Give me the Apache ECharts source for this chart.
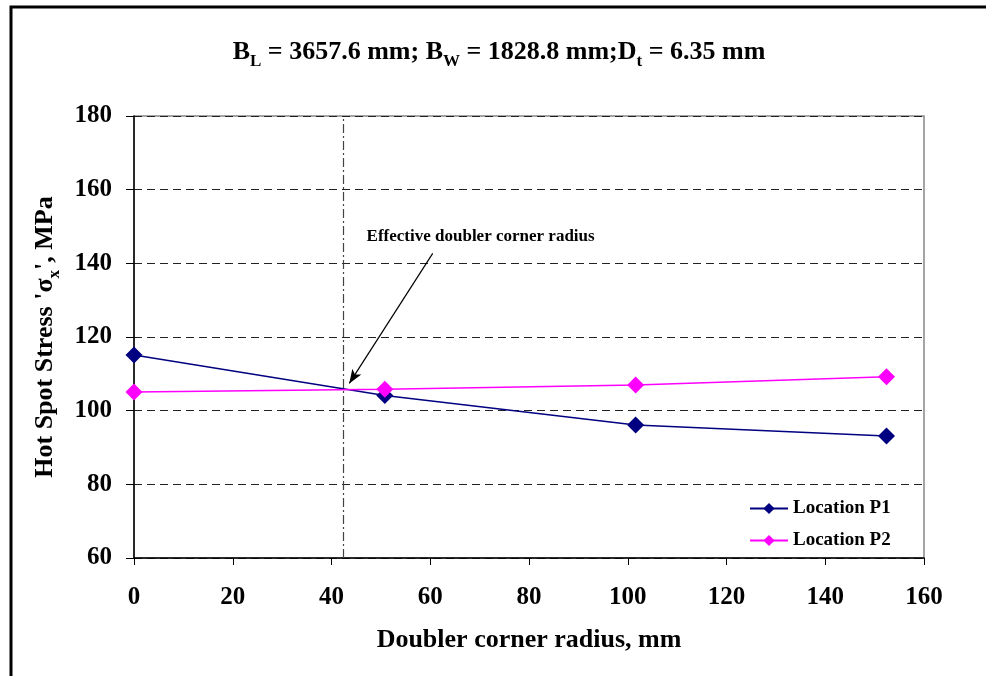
<!DOCTYPE html>
<html>
<head>
<meta charset="utf-8">
<script src="https://cdn.jsdelivr.net/npm/echarts@6/dist/echarts.min.js"></script>
<style>
  html,body{margin:0;padding:0;background:#fff;}
  #chart{width:986px;height:676px;}
</style>
</head>
<body>
<div id="chart"></div>
<script>
// doubler corner radius, mm
var radius = [0, 50.8, 101.6, 152.4];
// hot spot stress, MPa
var stressP1 = [115.1, 104.1, 96.1, 93.1];
var stressP2 = [105.1, 105.8, 107.0, 109.2];
var seriesNames = ["Location P1", "Location P2"];
var effRadius = 42.3;
// annotation arrow: start / tip in data coords
var arrowFrom = [60.5, 142.7];
var arrowTo = [43.6, 107.4];
var noteAt = [70.2, 147.3];

var serif = "'Liberation Serif','Times New Roman',serif";

function pairs(xs, ys){
    var out = [];
    for(var i=0;i<xs.length;i++){ out.push([xs[i], ys[i]]); }
    return out;
}

var chart = echarts.init(document.getElementById("chart"));
var option = {
    animation: false,
    backgroundColor: "#fff",
    title: {
        text: "{b|B}{s|L}{b| = 3657.6 mm; B}{s|W}{b| = 1828.8 mm;D}{s|t}{b| = 6.35 mm}",
        left: 494,
        textAlign: "center",
        top: 30,
        textStyle: {
            rich: {
                b: {fontFamily: serif, fontWeight: "bold", fontSize: 26, color: "#000", lineHeight: 30, verticalAlign: "bottom"},
                s: {fontFamily: serif, fontWeight: "bold", fontSize: 17, color: "#000", lineHeight: 30, verticalAlign: "bottom", padding: [0,0,-5,0]}
            }
        }
    },
    graphic: [{
        type: "polyline",
        shape: {points: [[11,676],[11,7],[986,7]]},
        style: {stroke: "#000", lineWidth: 3, fill: null},
        silent: true
    }],
    legend: {
        orient: "vertical",
        left: 744,
        top: 494,
        itemGap: 13,
        itemWidth: 38,
        itemHeight: 14,
        textStyle: {fontFamily: serif, fontWeight: "bold", fontSize: 19, color: "#000"},
        data: seriesNames
    },
    grid: {left: 134, right: 62, top: 116, bottom: 118, show: true, borderColor: "#888", borderWidth: 1.5},
    xAxis: {
        type: "value",
        min: 0, max: 160, interval: 20,
        name: "Doubler corner radius, mm",
        nameLocation: "middle",
        nameGap: 69,
        nameTextStyle: {fontFamily: serif, fontWeight: "bold", fontSize: 26, color: "#000"},
        axisLine: {onZero: false, lineStyle: {color: "#000", width: 1.5}},
        axisTick: {show: true, length: 7, lineStyle: {color: "#000"}},
        axisLabel: {fontFamily: serif, fontWeight: "bold", fontSize: 25, color: "#000", margin: 27},
        splitLine: {show: false}
    },
    yAxis: {
        type: "value",
        min: 60, max: 180, interval: 20,
        name: "{b|Hot Spot Stress 'σ}{s|x}{b|', MPa}",
        nameLocation: "middle",
        nameGap: 60,
        nameTextStyle: {
            rich: {
                b: {fontFamily: serif, fontWeight: "bold", fontSize: 26, color: "#000", lineHeight: 30, verticalAlign: "bottom"},
                s: {fontFamily: serif, fontWeight: "bold", fontSize: 17, color: "#000", lineHeight: 30, verticalAlign: "bottom", padding: [0,0,-5,0]}
            }
        },
        axisLine: {show: true, lineStyle: {color: "#000", width: 1.5}},
        axisTick: {show: true, length: 8, lineStyle: {color: "#000"}},
        axisLabel: {fontFamily: serif, fontWeight: "bold", fontSize: 25, color: "#000", margin: 22},
        splitLine: {show: true, lineStyle: {color: "#222", type: [8, 5], width: 1}}
    },
    series: [{
        name: seriesNames[0],
        type: "line",
        data: pairs(radius, stressP1),
        symbol: "diamond",
        symbolSize: 17,
        itemStyle: {color: "#000080"},
        lineStyle: {color: "#000080", width: 1.5},
        markLine: {
            silent: true,
            symbol: ["none", "none"],
            label: {show: false},
            lineStyle: {color: "#444", type: [9, 3, 2, 3], width: 1.2},
            data: [{xAxis: effRadius}]
        }
    },{
        name: seriesNames[1],
        type: "line",
        data: pairs(radius, stressP2),
        symbol: "diamond",
        symbolSize: 17,
        itemStyle: {color: "#FF00FF"},
        lineStyle: {color: "#FF00FF", width: 1.5},
        markLine: {
            silent: true,
            symbol: ["none", "arrow"],
            symbolSize: [8, 14],
            label: {show: false},
            lineStyle: {color: "#000", type: "solid", width: 1.2},
            data: [[{coord: arrowFrom}, {coord: arrowTo}]]
        },
        markPoint: {
            silent: true,
            symbol: "circle",
            symbolSize: 0,
            label: {
                show: true,
                position: "inside",
                formatter: "Effective doubler corner radius",
                fontFamily: serif, fontWeight: "bold", fontSize: 17, color: "#000"
            },
            data: [{coord: noteAt}]
        }
    }]
};
chart.setOption(option);
</script>
</body>
</html>
